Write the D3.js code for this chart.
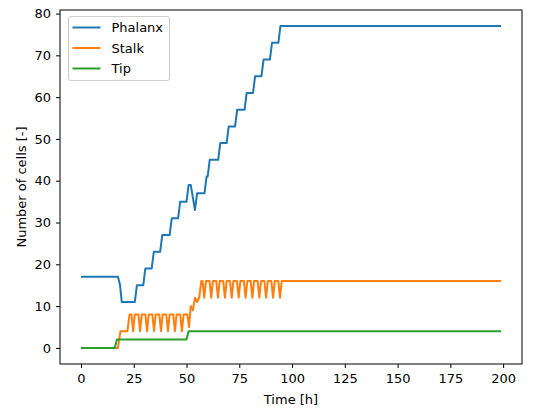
<!DOCTYPE html>
<html>
<head>
<meta charset="utf-8">
<script src="https://cdn.jsdelivr.net/npm/d3@7"></script>
<style>
  body { margin: 0; background: #fff; }
  text { font-family: "DejaVu Sans", sans-serif; }
</style>
</head>
<body>
<svg id="chart" width="537" height="410"></svg>
<script>
// [time h, cells] breakpoints
var phalanx = [[0,17],[17.5,17],[18.5,15],[19.3,11],[25.5,11],[26.5,15],[29.5,15],[30.5,19],
  [33.5,19],[34.5,23],[37.5,23],[38.5,27],[42,27],[43,31],[46,31],[47,35],[50,35],[51,39],
  [52,39],[54,33],[55,37],[58.5,37],[59.5,41],[60,41],[61,45],[65,45],[66,49],[69,49],
  [70,53],[73,53],[74,57],[77.5,57],[78.5,61],[81.5,61],[82.5,65],[85.5,65],[86.5,69],
  [89.5,69],[90.5,73],[93.5,73],[94.5,77],[199,77]];

var stalk = [[0,0],[17.5,0],[18.7,4],[22,4],[23,8],[23.9,8],[24.7,4],[25.5,8],[27.2,8],[28,4],
  [28.8,8],[30.5,8],[31.3,4],[32.1,8],[33.8,8],[34.6,4],[35.4,8],[37.1,8],[37.9,4],[38.7,8],
  [40.4,8],[41.2,4],[42,8],[43.7,8],[44.5,4],[45.3,8],[47,8],[47.8,4],[48.6,8],[50.4,8],
  [51.2,5],[52,10],[53,9],[54,12],[55,11],[56,12],[57,16],[57.6,16],[58.4,12],[59.2,16],
  [60.9,16],[61.7,12],[62.5,16],[64.1,16],[64.9,12],[65.7,16],[67.4,16],[68.2,12],[69,16],
  [70.6,16],[71.4,12],[72.2,16],[73.9,16],[74.7,12],[75.5,16],[77.2,16],[78,12],[78.8,16],
  [80.4,16],[81.2,12],[82,16],[83.7,16],[84.5,12],[85.3,16],[86.9,16],[87.7,12],[88.5,16],
  [90.2,16],[91,12],[91.8,16],[93.5,16],[94.3,12],[95.1,16],[199,16]];

var tip = [[0,0],[16,0],[17,2],[50,2],[51,4],[199,4]];

var seriesNames = ["Phalanx", "Stalk", "Tip"];
var seriesColors = ["#1f77b4", "#ff7f0e", "#2ca02c"];
var xTicks = [0, 25, 50, 75, 100, 125, 150, 175, 200];
var yTicks = [0, 10, 20, 30, 40, 50, 60, 70, 80];

var plotLeft = 60, plotRight = 522, plotTop = 10, plotBottom = 364;
var svg = d3.select("#chart");

var x = d3.scaleLinear().domain([-9.95, 208.95]).range([plotLeft, plotRight]);
var y = d3.scaleLinear().domain([-3.85, 80.85]).range([plotBottom, plotTop]);

var line = d3.line()
  .x(function(d) { return x(d[0]); })
  .y(function(d) { return y(d[1]); });

[phalanx, stalk, tip].forEach(function(s, i) {
  svg.append("path")
    .datum(s)
    .attr("d", line)
    .attr("fill", "none")
    .attr("stroke", seriesColors[i])
    .attr("stroke-width", 2)
    .attr("stroke-linejoin", "round");
});

/* axes */
var xAxis = svg.append("g")
  .attr("transform", "translate(0," + plotBottom + ")")
  .call(d3.axisBottom(x).tickValues(xTicks).tickSize(4).tickPadding(6).tickSizeOuter(0));
var yAxis = svg.append("g")
  .attr("transform", "translate(" + plotLeft + ",0)")
  .call(d3.axisLeft(y).tickValues(yTicks).tickSize(4).tickPadding(5).tickSizeOuter(0));

[xAxis, yAxis].forEach(function(g) {
  g.select(".domain").remove();
  g.selectAll("line").attr("stroke", "#000").attr("stroke-width", 1);
  g.selectAll("text").attr("fill", "#000").style("font-size", "13px")
    .style("font-family", "DejaVu Sans, sans-serif");
});

svg.append("rect")
  .attr("x", plotLeft).attr("y", plotTop)
  .attr("width", plotRight - plotLeft).attr("height", plotBottom - plotTop)
  .attr("fill", "none").attr("stroke", "#000").attr("stroke-width", 1);

svg.append("text")
  .attr("x", (plotLeft + plotRight) / 2).attr("y", 404)
  .attr("text-anchor", "middle").style("font-size", "13px")
  .text("Time [h]");

svg.append("text")
  .attr("transform", "translate(26," + (plotTop + plotBottom) / 2 + ") rotate(-90)")
  .attr("text-anchor", "middle").style("font-size", "13px")
  .text("Number of cells [-]");

/* legend */
var legend = svg.append("g");
legend.append("rect")
  .attr("x", 68.5).attr("y", 16.5).attr("width", 101).attr("height", 64)
  .attr("rx", 2.5).attr("fill", "#fff").attr("fill-opacity", 0.8)
  .attr("stroke", "#cccccc").attr("stroke-width", 1);
seriesNames.forEach(function(name, i) {
  var ly = 27.5 + i * 20.5;
  legend.append("line")
    .attr("x1", 72.5).attr("x2", 100.5).attr("y1", ly).attr("y2", ly)
    .attr("stroke", seriesColors[i]).attr("stroke-width", 2);
  legend.append("text")
    .attr("x", 111.5).attr("y", ly + 4.7)
    .style("font-size", "13px")
    .text(name);
});
</script>
</body>
</html>
